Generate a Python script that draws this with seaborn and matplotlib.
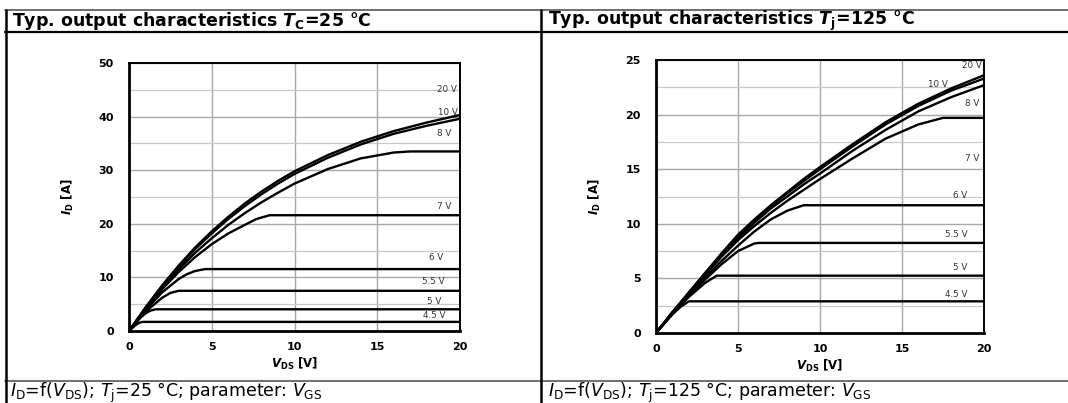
import pandas as pd
import seaborn as sns
import matplotlib.pyplot as plt
from matplotlib.lines import Line2D
from matplotlib.ticker import MultipleLocator

# Curvas lidas do datasheet: V_DS [V] e I_D [A] para cada V_GS
# Tc = 25 °C
vds_25_env = [0, 1, 2, 3, 4, 5, 6, 7, 8, 9, 10, 12, 14, 16, 18, 20]
id_25_20v = [0, 4.4, 8.5, 12.2, 15.6, 18.6, 21.3, 23.8, 26.0, 28.0, 29.8, 32.8, 35.3, 37.3, 38.9, 40.3]
id_25_10v = [0, 4.3, 8.3, 12.0, 15.3, 18.2, 20.9, 23.3, 25.5, 27.5, 29.3, 32.3, 34.8, 36.8, 38.3, 39.6]
vds_25_8v = [0, 1, 2, 3, 4, 5, 6, 7, 8, 9, 10, 12, 14, 16, 17, 20]
id_25_8v = [0, 4.2, 8.0, 11.5, 14.6, 17.3, 19.8, 22.0, 24.0, 25.8, 27.5, 30.2, 32.2, 33.3, 33.5, 33.5]
vds_25_7v = [0, 1, 2, 3, 4, 5, 6, 7, 7.7, 8.5, 20]
id_25_7v = [0, 4.1, 7.8, 11.0, 13.8, 16.2, 18.2, 19.8, 20.9, 21.6, 21.6]
vds_25_6v = [0, 1, 2, 3, 3.5, 4.0, 4.6, 20]
id_25_6v = [0, 3.9, 7.2, 9.7, 10.6, 11.2, 11.55, 11.55]
vds_25_55v = [0, 1, 2, 2.5, 3.0, 20]
id_25_55v = [0, 3.6, 6.2, 7.1, 7.5, 7.5]
vds_25_5v = [0, 0.5, 1.0, 1.3, 1.6, 20]
id_25_5v = [0, 2.0, 3.3, 3.8, 4.05, 4.05]
vds_25_45v = [0, 0.4, 0.6, 0.8, 20]
id_25_45v = [0, 1.1, 1.5, 1.7, 1.7]

# Tj = 125 °C
vds_125_env = [0, 1, 2, 3, 4, 5, 6, 7, 8, 9, 10, 12, 14, 16, 18, 20]
id_125_20v = [0, 1.9, 3.7, 5.5, 7.3, 9.0, 10.4, 11.7, 12.9, 14.1, 15.2, 17.3, 19.3, 21.0, 22.4, 23.6]
id_125_10v = [0, 1.9, 3.7, 5.5, 7.2, 8.9, 10.3, 11.6, 12.8, 13.9, 15.0, 17.1, 19.1, 20.8, 22.2, 23.3]
id_125_8v = [0, 1.9, 3.6, 5.4, 7.1, 8.7, 10.1, 11.4, 12.5, 13.6, 14.6, 16.7, 18.6, 20.3, 21.6, 22.7]
vds_125_7v = [0, 1, 2, 3, 4, 5, 6, 7, 8, 9, 10, 12, 14, 16, 17.5, 20]
id_125_7v = [0, 1.8, 3.6, 5.3, 7.0, 8.5, 9.8, 11.0, 12.1, 13.1, 14.1, 16.0, 17.8, 19.1, 19.7, 19.7]
vds_125_6v = [0, 1, 2, 3, 4, 5, 6, 7, 8, 9, 20]
id_125_6v = [0, 1.8, 3.5, 5.1, 6.6, 8.0, 9.3, 10.4, 11.2, 11.7, 11.7]
vds_125_55v = [0, 1, 2, 3, 4, 5, 6, 6.3, 20]
id_125_55v = [0, 1.8, 3.4, 4.9, 6.3, 7.5, 8.2, 8.25, 8.25]
vds_125_5v = [0, 1, 2, 3, 3.7, 20]
id_125_5v = [0, 1.8, 3.3, 4.6, 5.25, 5.25]
vds_125_45v = [0, 1, 1.5, 2.0, 20]
id_125_45v = [0, 1.7, 2.4, 2.9, 2.9]

vgs_names = ['20 V', '10 V', '8 V', '7 V', '6 V', '5.5 V', '5 V', '4.5 V']

curvas_25 = [
    (vds_25_env, id_25_20v), (vds_25_env, id_25_10v), (vds_25_8v, id_25_8v),
    (vds_25_7v, id_25_7v), (vds_25_6v, id_25_6v), (vds_25_55v, id_25_55v),
    (vds_25_5v, id_25_5v), (vds_25_45v, id_25_45v),
]
curvas_125 = [
    (vds_125_env, id_125_20v), (vds_125_env, id_125_10v), (vds_125_env, id_125_8v),
    (vds_125_7v, id_125_7v), (vds_125_6v, id_125_6v), (vds_125_55v, id_125_55v),
    (vds_125_5v, id_125_5v), (vds_125_45v, id_125_45v),
]

# posicoes dos rotulos (x, y) em unidades de dados
rotulos_25 = [(19.8, 45.1), (19.9, 40.7), (19.5, 36.8), (19.5, 23.2),
              (19.0, 13.7), (19.1, 9.2), (18.9, 5.5), (19.1, 2.8)]
rotulos_125 = [(19.9, 24.5), (17.8, 22.8), (19.7, 21.0), (19.7, 16.0),
               (19.0, 12.6), (19.0, 9.0), (19.0, 6.0), (19.0, 3.5)]


def monta_df(curvas):
    linhas = []
    for nome, (xs, ys) in zip(vgs_names, curvas):
        for x, y in zip(xs, ys):
            linhas.append({'vgs': nome, 'vds': x, 'id': y})
    return pd.DataFrame(linhas)


sns.set_style('white')
plt.rcParams['font.family'] = ['DejaVu Sans']
plt.rcParams['text.color'] = 'black'
plt.rcParams['axes.labelcolor'] = 'black'
plt.rcParams['xtick.color'] = 'black'
plt.rcParams['ytick.color'] = 'black'
plt.rcParams['mathtext.fontset'] = 'custom'
plt.rcParams['mathtext.rm'] = 'DejaVu Sans'
plt.rcParams['mathtext.it'] = 'DejaVu Sans:italic'
plt.rcParams['mathtext.bf'] = 'DejaVu Sans:bold'
plt.rcParams['mathtext.sf'] = 'DejaVu Sans:bold:italic'

fig = plt.figure(figsize=(10.68, 4.03), dpi=100)

ax1 = fig.add_axes([129 / 1068, 1 - 331 / 403, 331 / 1068, 268 / 403])
ax2 = fig.add_axes([656 / 1068, 1 - 333 / 403, 328 / 1068, 273 / 403])

configs = [
    (ax1, curvas_25, rotulos_25, 50, 10),
    (ax2, curvas_125, rotulos_125, 25, 5),
]

for ax, curvas, rotulos, ymax, ystep in configs:
    df = monta_df(curvas)
    sns.lineplot(data=df, x='vds', y='id', units='vgs', estimator=None,
                 sort=False, color='black', lw=1.7, ax=ax, zorder=3)
    ax.set_xlim(0, 20)
    ax.set_ylim(0, ymax)
    ax.xaxis.set_major_locator(MultipleLocator(5))
    ax.yaxis.set_major_locator(MultipleLocator(ystep))
    ax.yaxis.set_minor_locator(MultipleLocator(ystep / 2))
    ax.grid(True, which='major', color='#a8a8a8', lw=1.0)
    ax.grid(True, which='minor', axis='y', color='#c8c8c8', lw=0.9)
    for s in ax.spines.values():
        s.set_visible(True)
        s.set_color('black')
        s.set_linewidth(1.4)
    ax.spines['left'].set_linewidth(2)
    ax.spines['bottom'].set_linewidth(2)
    ax.tick_params(axis='y', which='major', length=5, color='#a8a8a8',
                   labelcolor='black', labelsize=8, pad=6)
    ax.tick_params(axis='x', which='major', length=0, labelcolor='black',
                   labelsize=8, pad=8)
    for lab in ax.get_xticklabels() + ax.get_yticklabels():
        lab.set_fontweight('bold')
    ax.set_xlabel(r'$\mathsf{V}_{\mathbf{DS}}$ [V]', fontsize=8.5,
                  fontweight='bold', labelpad=3)
    ax.set_ylabel(r'$\mathsf{I}_{\mathbf{D}}$ [A]', fontsize=8.5,
                  fontweight='bold', labelpad=16)
    for nome, (tx, ty) in zip(vgs_names, rotulos):
        ax.text(tx, ty, nome, fontsize=6.3, color='#333333', ha='right',
                va='center', zorder=4)

# caixa branca do rotulo 7 V a direita
ax2.texts[3].set_bbox(dict(fc='white', ec='none', pad=2))
ax2.texts[3].set_clip_on(False)


# linhas da tabela do datasheet
def linha(x0, x1, y0, y1, lw, cor):
    fig.add_artist(Line2D([x0 / 1068, x1 / 1068], [1 - y0 / 403, 1 - y1 / 403],
                          transform=fig.transFigure, color=cor, lw=lw))


linha(5, 1068, 9.5, 9.5, 1.2, '#555555')
linha(5, 1068, 32, 32, 1.6, 'black')
linha(5, 1068, 381, 381, 1.2, '#555555')
linha(6, 6, 9.5, 403, 1.8, 'black')
linha(541, 541, 9.5, 403, 1.8, 'black')

fig.text(12 / 1068, 1 - 21 / 403, r'Typ. output characteristics $\mathsf{T}_{\mathbf{C}}$=25 °C',
         fontsize=12.5, fontweight='bold', va='center')
fig.text(548 / 1068, 1 - 21 / 403, r'Typ. output characteristics $\mathsf{T}_{\mathbf{j}}$=125 °C',
         fontsize=12.5, fontweight='bold', va='center')
fig.text(10 / 1068, 1 - 393 / 403,
         r'$\mathit{I}_{\mathrm{D}}$=f($\mathit{V}_{\mathrm{DS}}$); $\mathit{T}_{\mathrm{j}}$=25 °C; parameter: $\mathit{V}_{\mathrm{GS}}$',
         fontsize=12.5, va='center')
fig.text(548 / 1068, 1 - 393 / 403,
         r'$\mathit{I}_{\mathrm{D}}$=f($\mathit{V}_{\mathrm{DS}}$); $\mathit{T}_{\mathrm{j}}$=125 °C; parameter: $\mathit{V}_{\mathrm{GS}}$',
         fontsize=12.5, va='center')

plt.savefig('out.png', dpi=100)
